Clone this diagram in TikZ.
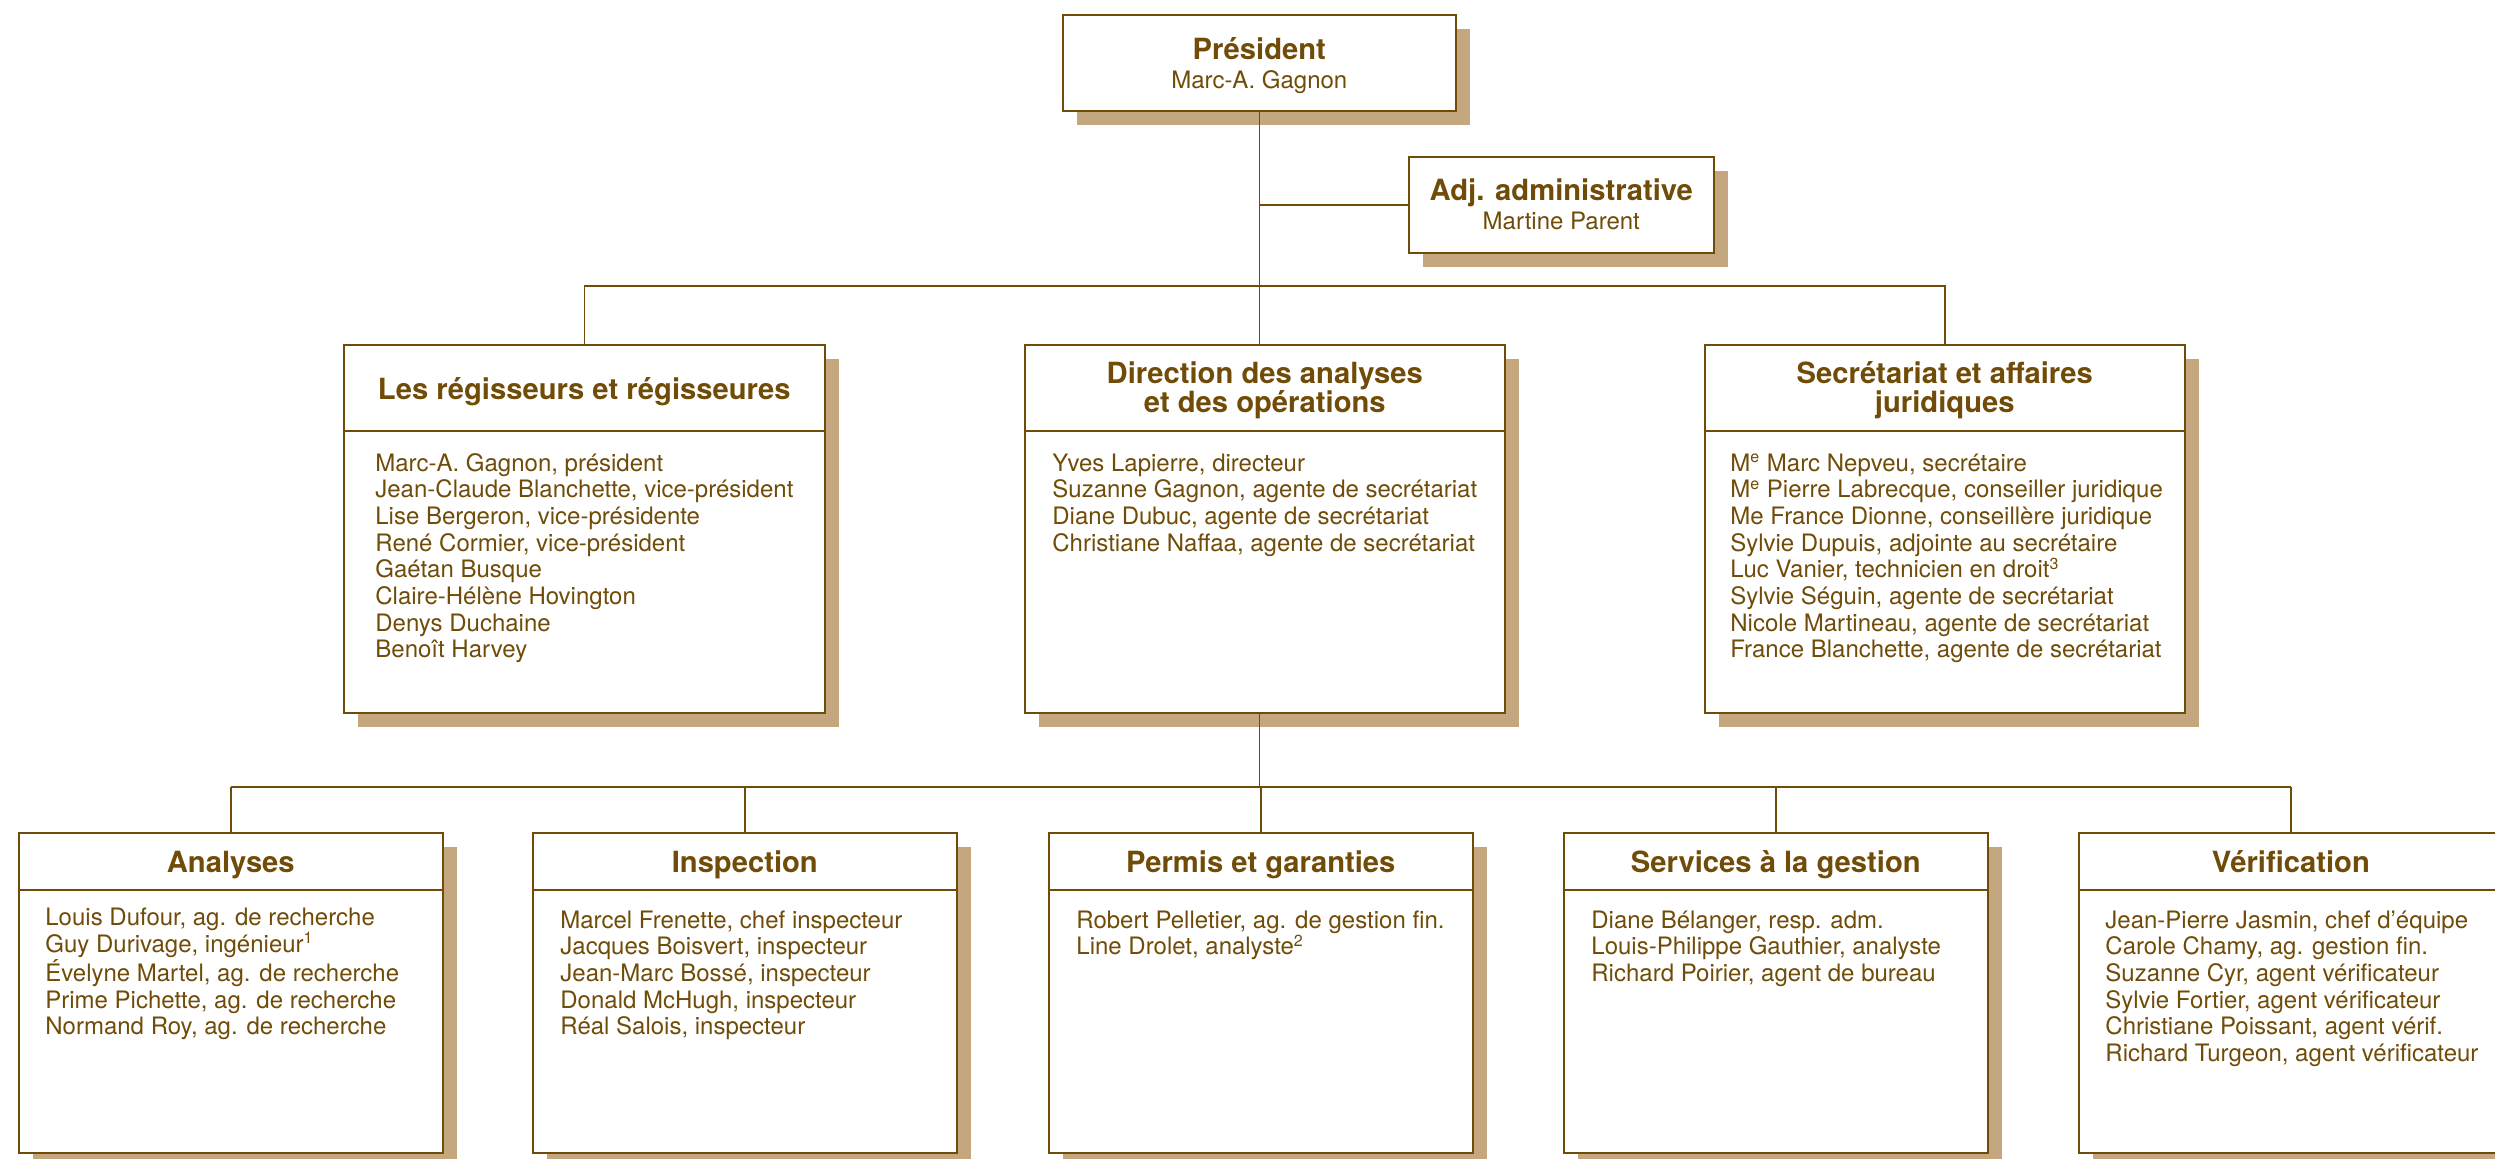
\documentclass[tikz,border=0pt]{standalone}
\usepackage{fontspec}
\setmainfont{TeX Gyre Heros}
\usetikzlibrary{shadows, positioning}

\definecolor{brun}{RGB}{112,76,8}
\definecolor{ombre}{RGB}{196,167,127}

\tikzset{
  boite/.style={draw=brun, line width=0.8pt, fill=white, inner sep=0pt, anchor=north west,
    general shadow={fill=ombre, shadow xshift=7pt, shadow yshift=-7pt}},
  titre/.style={text=brun, align=center, anchor=base, inner sep=0pt,
    font=\fontsize{14.6}{14.5}\selectfont\bfseries},
  nom/.style={text=brun, align=center, anchor=base, inner sep=0pt,
    font=\fontsize{12}{14.5}\selectfont},
  liste/.style={text=brun, align=left, anchor=base west, inner sep=0pt,
    font=\fontsize{12}{13.35}\selectfont},
  lien/.style={draw=brun, line width=0.8pt},
}
\def\Me{M\textsuperscript{e}}
% base = derniere ligne du texte
\def\ligne{13.35pt}

\begin{document}
\begin{tikzpicture}[x=0.5pt, y=-0.5pt]
  \useasboundingbox (0,0) rectangle (2495,1158);

  % direction
  \node (pres) [boite, minimum width=196.5pt, minimum height=48pt] at (1062,14) {};
  \node (pres-t) [nom] at ([yshift=-37pt]pres.north)
    {{\fontsize{14.6}{14.5}\selectfont\bfseries Président}\\Marc-A. Gagnon};
  \node (adj) [boite, minimum width=152.5pt, minimum height=48pt] at (1408,156) {};
  \node (adj-t) [nom] at ([yshift=-36.5pt]adj.north)
    {{\fontsize{14.6}{14.5}\selectfont\bfseries Adj. administrative}\\Martine Parent};

  % premier niveau
  \node (reg) [boite, minimum width=240.5pt, minimum height=184pt] at (343,344) {};
  \node (dir) [boite, minimum width=240pt, minimum height=184pt] at (1024,344) {};
  \node (sec) [boite, minimum width=240pt, minimum height=184pt] at (1704,344) {};
  \foreach \n in {reg,dir,sec}
    \draw [lien] ([yshift=-43.5pt]\n.north west) -- ([yshift=-43.5pt]\n.north east);
  \node (reg-t) [titre] at ([yshift=-27.5pt]reg.north) {Les régisseurs et régisseures};
  \node (dir-t) [titre] at ([yshift=-34pt]dir.north) {Direction des analyses\\et des opérations};
  \node (sec-t) [titre] at ([yshift=-34pt]sec.north) {Secrétariat et affaires\\juridiques};
  \node (reg-l) [liste] at ([xshift=16pt, yshift=-63.5pt-7*\ligne]reg.north west)
    {Marc-A. Gagnon, président\\Jean-Claude Blanchette, vice-président\\Lise Bergeron, vice-présidente\\
     René Cormier, vice-président\\Gaétan Busque\\Claire-Hélène Hovington\\Denys Duchaine\\Benoît Harvey};
  \node (dir-l) [liste] at ([xshift=14pt, yshift=-63.5pt-3*\ligne]dir.north west)
    {Yves Lapierre, directeur\\Suzanne Gagnon, agente de secrétariat\\Diane Dubuc, agente de secrétariat\\
     Christiane Naffaa, agente de secrétariat};
  \node (sec-l) [liste] at ([xshift=13pt, yshift=-63.5pt-7*\ligne]sec.north west)
    {\Me{} Marc Nepveu, secrétaire\\\Me{} Pierre Labrecque, conseiller juridique\\
     Me France Dionne, conseillère juridique\\Sylvie Dupuis, adjointe au secrétaire\\
     Luc Vanier, technicien en droit\textsuperscript{3}\\Sylvie Séguin, agente de secrétariat\\
     Nicole Martineau, agente de secrétariat\\France Blanchette, agente de secrétariat};

  % services
  \node (ana) [boite, minimum width=212pt, minimum height=160pt] at (18,832) {};
  \node (insp) [boite, minimum width=212pt, minimum height=160pt] at (532,832) {};
  \node (perm) [boite, minimum width=212pt, minimum height=160pt] at (1048,832) {};
  \node (serv) [boite, minimum width=212pt, minimum height=160pt] at (1563,832) {};
  \node (verif) [boite, minimum width=212pt, minimum height=160pt] at (2078,832) {};
  \foreach \n in {ana,insp,perm,serv,verif}
    \draw [lien] ([yshift=-29pt]\n.north west) -- ([yshift=-29pt]\n.north east);
  \node (ana-t) [titre] at ([yshift=-20pt]ana.north) {Analyses};
  \node (insp-t) [titre] at ([yshift=-20pt]insp.north) {Inspection};
  \node (perm-t) [titre] at ([yshift=-20pt]perm.north) {Permis et garanties};
  \node (serv-t) [titre] at ([yshift=-20pt]serv.north) {Services à la gestion};
  \node (verif-t) [titre] at ([yshift=-20pt]verif.north) {Vérification};
  \node (ana-l) [liste] at ([xshift=13.5pt, yshift=-48pt-4*\ligne]ana.north west)
    {Louis Dufour, ag. de recherche\\Guy Durivage, ingénieur\textsuperscript{1}\\
     Évelyne Martel, ag. de recherche\\Prime Pichette, ag. de recherche\\Normand Roy, ag. de recherche};
  \node (insp-l) [liste] at ([xshift=14pt, yshift=-48pt-4*\ligne]insp.north west)
    {Marcel Frenette, chef inspecteur\\Jacques Boisvert, inspecteur\\Jean-Marc Bossé, inspecteur\\
     Donald McHugh, inspecteur\\Réal Salois, inspecteur};
  \node (perm-l) [liste] at ([xshift=14pt, yshift=-48pt-\ligne]perm.north west)
    {Robert Pelletier, ag. de gestion fin.\\Line Drolet, analyste\textsuperscript{2}};
  \node (serv-l) [liste] at ([xshift=14pt, yshift=-48pt-2*\ligne]serv.north west)
    {Diane Bélanger, resp. adm.\\Louis-Philippe Gauthier, analyste\\Richard Poirier, agent de bureau};
  \node (verif-l) [liste] at ([xshift=13.5pt, yshift=-48pt-5*\ligne]verif.north west)
    {Jean-Pierre Jasmin, chef d’équipe\\Carole Chamy, ag. gestion fin.\\Suzanne Cyr, agent vérificateur\\
     Sylvie Fortier, agent vérificateur\\Christiane Poissant, agent vérif.\\Richard Turgeon, agent vérificateur};

  % liens
  \coordinate (bus1) at (1258,286);
  \coordinate (bus2) at (1258,787);
  \draw [lien] (pres.south) -- (pres.south |- dir.north);
  \draw [lien] (pres.south |- adj.west) -- (adj.west);
  \draw [lien] (reg.north) -- (reg.north |- bus1) -- (sec.north |- bus1) -- (sec.north);
  \draw [lien] (dir.south -| pres.south) -- (pres.south |- bus2);
  \draw [lien] (ana.north |- bus2) -- (verif.north |- bus2);
  \foreach \n in {ana,insp,perm,serv,verif}
    \draw [lien] (\n.north) -- (\n.north |- bus2);
\end{tikzpicture}
\end{document}
